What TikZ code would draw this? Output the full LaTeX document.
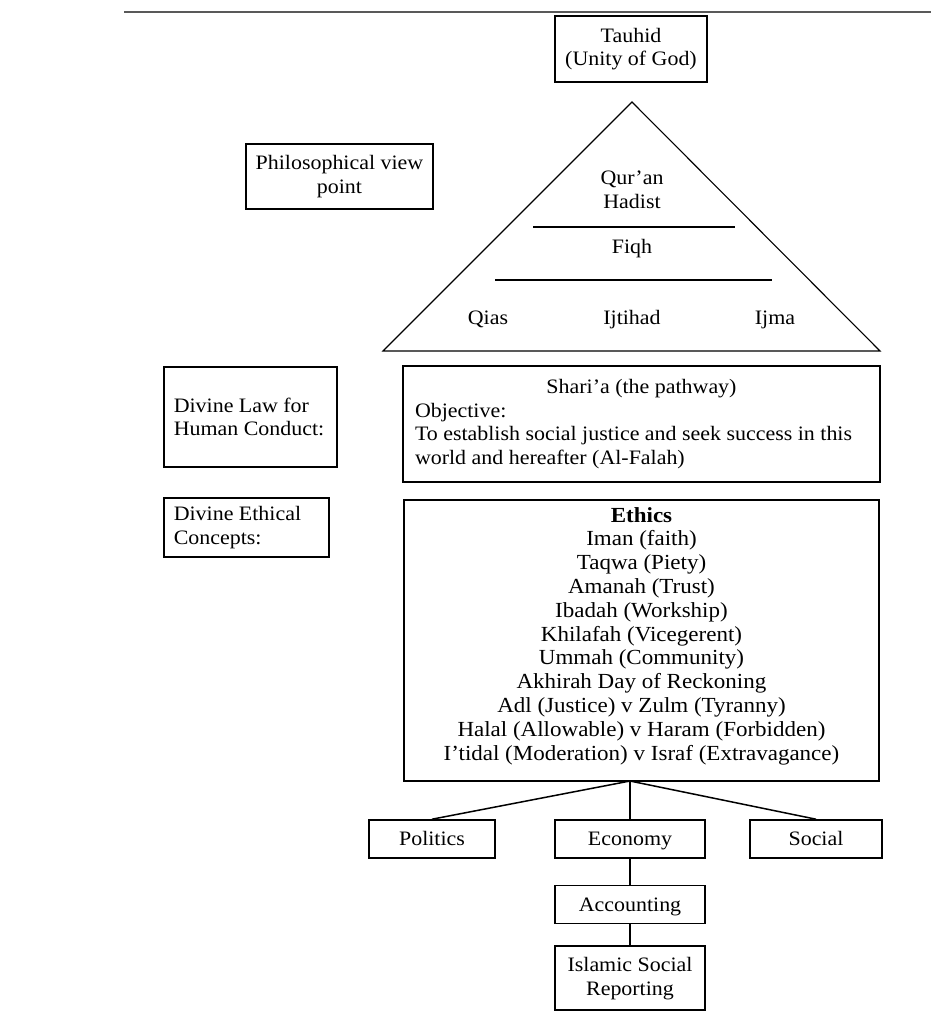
\documentclass[tikz,border=0pt]{standalone}
\usepackage{fontspec}
\setmainfont{Liberation Serif}[FakeStretch=1.07]
\usetikzlibrary{positioning}
\begin{document}
\begin{tikzpicture}[x=1pt, y=-1pt,
every node/.style={font=\fontsize{20.5}{23.8}\selectfont},
box/.style={draw, line width=1.6pt, inner sep=0pt, align=center},
sidebox/.style={box, align=flush left, inner xsep=10pt, anchor=west},
tri/.style={text height=14pt, text depth=5pt},
single/.style={text height=13pt, text depth=0pt},
rule/.style={line width=2.8pt},
link/.style={line width=1.5pt}]
\useasboundingbox (0,0) rectangle (931,1021);
\draw[line width=2.2pt, black!65] (124,12) -- (931,12);
% top of the pyramid
\node[box, minimum width=152pt, minimum height=66pt] (tauhid) at (631,49) {Tauhid\\(Unity of God)};
\node[box, minimum width=187pt, minimum height=65pt] (philo) at (339.5,176.5) {Philosophical view\\point};
\coordinate (apex) at (632,102);
\coordinate (baseL) at (383,351);
\coordinate (baseR) at (880,351);
\draw[line width=1.1pt] (apex) -- (baseL) -- (baseR) -- cycle;
\draw[rule] (533,227) -- (735,227);
\draw[rule] (495,280) -- (772,280);
\node[align=center] (quran) at (632,190) {Qur'an\\Hadist};
\node[tri] (fiqh) at (632,249) {Fiqh};
\node[tri] (qias) at (488,320) {Qias};
\node[tri] (ijtihad) at (632,320) {Ijtihad};
\node[tri] (ijma) at (775,320) {Ijma};
% law and ethics
\node[box, align=flush left, text width=453pt, inner xsep=12pt, minimum height=116pt] (sharia) at (641.5,424)
  {\makebox[\linewidth]{Shari'a (the pathway)}\\Objective:\\To establish social justice and seek success in this\\world and hereafter (Al-Falah)};
\node[sidebox, text width=153pt, minimum height=100pt] (lawlbl) at (163,417) {Divine Law for\\Human Conduct:};
\node[sidebox, text width=145pt, minimum height=59pt] (ethlbl) at (163,527.5) {Divine Ethical\\Concepts:};
\node[box, minimum width=475pt, minimum height=281pt, font=\fontsize{21.5}{23.8}\selectfont] (ethics) at (641.5,640.5)
  {\textbf{Ethics}\\Iman (faith)\\Taqwa (Piety)\\Amanah (Trust)\\Ibadah (Workship)\\Khilafah (Vicegerent)\\Ummah (Community)\\Akhirah Day of Reckoning\\Adl (Justice) v Zulm (Tyranny)\\Halal (Allowable) v Haram (Forbidden)\\I'tidal (Moderation) v Israf (Extravagance)\\[-10pt]\mbox{}};
% branches
\coordinate (hub) at (630,781);
\node[box, single, minimum width=126pt, minimum height=38pt] (politics) at (432,839) {Politics};
\node[box, single, minimum width=150pt, minimum height=38pt] (economy) at (630,839) {Economy};
\node[box, single, minimum width=132pt, minimum height=38pt] (social) at (816,839) {Social};
\node[box, single, minimum width=150pt, minimum height=38pt, below=26pt of economy] (accounting) {Accounting};
\node[box, minimum width=150pt, minimum height=64pt, below=21pt of accounting] (isr) {Islamic Social\\Reporting};
\draw[link] (hub) -- (politics.north);
\draw[link] (hub) -- (economy.north);
\draw[link] (hub) -- (social.north);
\draw[link] (economy) -- (accounting);
\draw[link] (accounting) -- (isr);
\end{tikzpicture}
\end{document}
